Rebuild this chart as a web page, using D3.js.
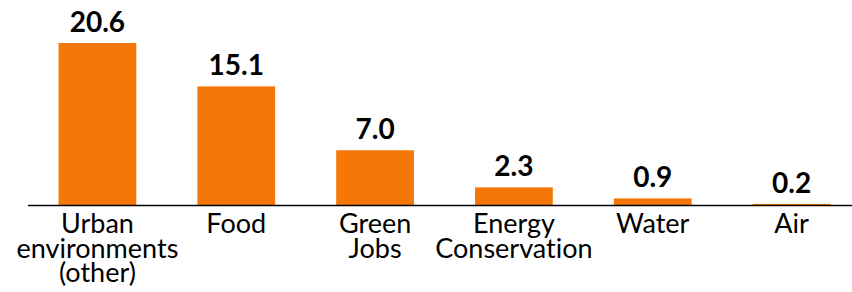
<!DOCTYPE html>
<html>
<head>
<meta charset="utf-8">
<script src="https://cdn.jsdelivr.net/npm/d3@7"></script>
<style>
  body { margin: 0; background: #fff; }
  text { font-family: Lato, "Open Sans", sans-serif; fill: #000; font-variant-ligatures: none; }
</style>
</head>
<body>
<div id="viz"></div>
<script>
// chart data
var categories = ["Urban environments (other)", "Food", "Green Jobs", "Energy Conservation", "Water", "Air"];
var labelLines = [["Urban", "environments", "(other)"], ["Food"], ["Green", "Jobs"], ["Energy", "Conservation"], ["Water"], ["Air"]];
var values = [20.6, 15.1, 7.0, 2.3, 0.9, 0.2];

var width = 852,
    height = 292,
    baseline = 205.5;

var svg = d3.select("#viz")
  .append("svg")
  .attr("width", width)
  .attr("height", height);

var x = d3.scaleBand()
  .domain(categories)
  .range([28, 861])
  .paddingInner(0.44)
  .paddingOuter(0.22);

var y = d3.scaleLinear()
  .domain([0, 20.6])
  .range([baseline, 43]);

// bars
svg.selectAll(".bar")
  .data(values)
  .enter().append("rect")
  .attr("class", "bar")
  .attr("x", (d, i) => x(categories[i]))
  .attr("width", x.bandwidth())
  .attr("y", d => y(d))
  .attr("height", d => baseline - y(d))
  .attr("fill", "#f57708");

// value labels
svg.selectAll(".val")
  .data(values)
  .enter().append("text")
  .attr("class", "val")
  .attr("x", (d, i) => x(categories[i]) + x.bandwidth() / 2)
  .attr("y", d => y(d) - 11)
  .attr("text-anchor", "middle")
  .style("font-weight", "bold")
  .style("font-size", "28px")
  .text(d => d.toFixed(1));

// x axis
var xAxis = d3.axisBottom(x).tickSize(0).tickFormat("");
var gx = svg.append("g")
  .attr("transform", "translate(0," + baseline + ")")
  .call(xAxis);
gx.select(".domain").attr("stroke", "#000").attr("stroke-width", 1.6).attr("d", "M28,0H852");

// category labels
var cat = svg.selectAll(".cat")
  .data(categories)
  .enter().append("text")
  .attr("class", "cat")
  .attr("text-anchor", "middle")
  .style("font-size", "27px")
  .attr("transform", d => "translate(" + (x(d) + x.bandwidth() / 2) + ",233)");

cat.selectAll("tspan")
  .data((d, i) => labelLines[i])
  .enter().append("tspan")
  .attr("x", 0)
  .attr("y", (d, i) => i * 24.5)
  .text(d => d);
</script>
</body>
</html>
